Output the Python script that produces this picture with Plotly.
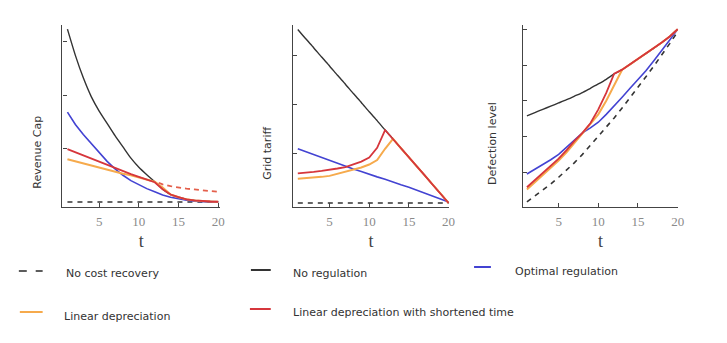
import plotly.graph_objects as go

t = [1, 2, 3, 4, 5, 6, 7, 8, 9, 10, 11, 12, 13, 14, 15, 16, 17, 18, 19, 20]

# ---------- Panel 1: Revenue Cap ----------
rev_no_cost = [0, 0, 0, 0, 0, 0, 0, 0, 0, 0, 0, 0, 0, 0, 0, 0, 0, 0, 0, 0]
rev_no_reg = [3.23, 2.74, 2.32, 1.97, 1.70, 1.47, 1.24, 1.03, 0.82, 0.65, 0.51, 0.38,
              0.24, 0.14, 0.09, 0.05, 0.03, 0.015, 0.01, 0.005]
rev_optimal = [1.68, 1.45, 1.26, 1.09, 0.92, 0.76, 0.62, 0.50, 0.40, 0.32, 0.25, 0.19,
               0.13, 0.09, 0.06, 0.035, 0.015, 0.005, 0.0, 0.0]
rev_linear = [0.80, 0.76, 0.72, 0.69, 0.65, 0.61, 0.57, 0.53, 0.50, 0.46, 0.42, 0.38,
              0.27, 0.14, 0.09, 0.05, 0.03, 0.015, 0.01, 0.005]
rev_short = [0.99, 0.93, 0.87, 0.81, 0.76, 0.70, 0.64, 0.58, 0.52, 0.47, 0.42, 0.37,
             0.24, 0.14, 0.09, 0.05, 0.03, 0.015, 0.01, 0.005]
t_ext = [12.5, 13, 14, 15, 16, 17, 18, 19, 20]
rev_linear_ext = [0.36, 0.33, 0.295, 0.27, 0.25, 0.235, 0.22, 0.205, 0.19]

# ---------- Panel 2: Grid tariff ----------
tar_no_cost = [0, 0, 0, 0, 0, 0, 0, 0, 0, 0, 0, 0, 0, 0, 0, 0, 0, 0, 0, 0]
tar_no_reg = [3.52, 3.33, 3.15, 2.96, 2.78, 2.59, 2.41, 2.22, 2.04, 1.85, 1.67, 1.48,
              1.30, 1.11, 0.93, 0.74, 0.56, 0.37, 0.19, 0.0]
tar_optimal = [1.10, 1.04, 0.98, 0.92, 0.86, 0.80, 0.75, 0.69, 0.64, 0.58, 0.53, 0.48,
               0.42, 0.37, 0.32, 0.26, 0.21, 0.15, 0.09, 0.02]
tar_linear = [0.49, 0.50, 0.51, 0.53, 0.55, 0.59, 0.63, 0.68, 0.72, 0.78, 0.87, 1.10,
              1.30, 1.11, 0.93, 0.74, 0.56, 0.37, 0.19, 0.0]
tar_short = [0.60, 0.61, 0.63, 0.65, 0.67, 0.70, 0.73, 0.78, 0.84, 0.92, 1.12, 1.48,
             1.30, 1.11, 0.93, 0.74, 0.56, 0.37, 0.19, 0.0]

# ---------- Panel 3: Defection level ----------
def_no_cost = [0.17, 0.33, 0.50, 0.67, 0.86, 1.06, 1.27, 1.50, 1.75, 2.00, 2.26, 2.52,
               2.80, 3.08, 3.37, 3.67, 3.97, 4.27, 4.60, 4.93]
def_no_reg = [2.58, 2.67, 2.76, 2.85, 2.94, 3.03, 3.13, 3.23, 3.35, 3.47, 3.60, 3.75,
              3.87, 4.02, 4.17, 4.32, 4.47, 4.63, 4.80, 5.0]
def_optimal = [0.95, 1.08, 1.22, 1.35, 1.50, 1.70, 1.90, 2.10, 2.24, 2.40, 2.62, 2.85,
               3.10, 3.35, 3.58, 3.84, 4.12, 4.40, 4.70, 5.0]
def_linear = [0.52, 0.72, 0.93, 1.13, 1.33, 1.56, 1.82, 2.08, 2.33, 2.62, 3.00, 3.44,
              3.87, 4.02, 4.17, 4.32, 4.47, 4.63, 4.80, 5.0]
def_short = [0.58, 0.78, 0.98, 1.18, 1.38, 1.62, 1.88, 2.10, 2.37, 2.76, 3.22, 3.76,
             3.87, 4.02, 4.17, 4.32, 4.47, 4.63, 4.80, 5.0]

x_ticks = [5, 10, 15, 20]
x_tick_labels = ["5", "10", "15", "20"]
y_titles = ["Revenue Cap", "Grid tariff", "Defection level"]
legend_labels = ["No cost recovery", "No regulation", "Optimal regulation",
                 "Linear depreciation", "Linear depreciation with shortened time"]

C_BLACK = "#333333"
C_BLUE = "#4343d2"
C_ORANGE = "#f6aa4c"
C_RED = "#d6363c"
C_RED_DASH = "#e4604c"

W, H = 727, 343

fig = go.Figure()

panels = [
    ("x", "y", rev_no_cost, rev_no_reg, rev_optimal, rev_linear, rev_short),
    ("x2", "y2", tar_no_cost, tar_no_reg, tar_optimal, tar_linear, tar_short),
    ("x3", "y3", def_no_cost, def_no_reg, def_optimal, def_linear, def_short),
]

for xa, ya, nc, nr, op, li, sh in panels:
    fig.add_trace(go.Scatter(x=t, y=nc, mode="lines", xaxis=xa, yaxis=ya,
                             line=dict(color=C_BLACK, width=1.6, dash="5px,5px")))
    fig.add_trace(go.Scatter(x=t, y=nr, mode="lines", xaxis=xa, yaxis=ya,
                             line=dict(color=C_BLACK, width=1.4, shape="spline", smoothing=0.6)))
    fig.add_trace(go.Scatter(x=t, y=op, mode="lines", xaxis=xa, yaxis=ya,
                             line=dict(color=C_BLUE, width=1.6)))
    fig.add_trace(go.Scatter(x=t, y=li, mode="lines", xaxis=xa, yaxis=ya,
                             line=dict(color=C_ORANGE, width=2)))
    if xa == "x":
        fig.add_trace(go.Scatter(x=t_ext, y=rev_linear_ext, mode="lines", xaxis=xa, yaxis=ya,
                                 line=dict(color=C_RED_DASH, width=1.8, dash="5px,4px")))
    fig.add_trace(go.Scatter(x=t, y=sh, mode="lines", xaxis=xa, yaxis=ya,
                             line=dict(color=C_RED, width=1.8)))

def px_x(p):
    return p / W

def px_y(p):
    return 1 - p / H

y_dom = [px_y(207), px_y(25)]

common_x = dict(showgrid=False, zeroline=False, showline=True, linecolor="#444444",
                linewidth=1.3, ticks="inside", ticklen=4, tickwidth=1.2, tickcolor="#444444",
                tickvals=x_ticks, ticktext=x_tick_labels, ticklabelstandoff=2,
                tickfont=dict(family="Liberation Serif", size=13, color="#8a8a8a"),
                title=dict(text="t", font=dict(family="Liberation Serif", size=18, color="#444444"),
                           standoff=6))
common_y = dict(showgrid=False, zeroline=False, showline=True, linecolor="#444444",
                linewidth=1.3, ticks="inside", ticklen=4, tickwidth=1.2, tickcolor="#444444",
                showticklabels=False)

fig.update_layout(
    width=W, height=H,
    margin=dict(l=0, r=0, t=0, b=0),
    paper_bgcolor="white", plot_bgcolor="white",
    showlegend=False,
    xaxis=dict(common_x, domain=[px_x(63), px_x(222)], range=[0.375, 20.25], anchor="y"),
    yaxis=dict(common_y, domain=y_dom, range=[-0.093, 3.308], tickvals=[1, 2, 3], anchor="x"),
    xaxis2=dict(common_x, domain=[px_x(295), px_x(453)], range=[0.34, 20.09], anchor="y2"),
    yaxis2=dict(common_y, domain=y_dom, range=[-0.081, 3.61], tickvals=[1, 2, 3], anchor="x2"),
    xaxis3=dict(common_x, domain=[px_x(527), px_x(684)], range=[0.46, 20.09], anchor="y3"),
    yaxis3=dict(common_y, domain=y_dom, range=[0.028, 5.12], tickvals=[1, 2, 3, 4, 5], anchor="x3"),
)

# y-axis titles
for txt, xp, yp in zip(y_titles, [37, 270, 496], [152, 153, 143]):
    fig.add_annotation(text=txt, xref="paper", yref="paper", x=px_x(xp), y=px_y(yp),
                       textangle=-90, showarrow=False, xanchor="center", yanchor="middle",
                       font=dict(family="DejaVu Sans", size=11, color="#333333"))

# legend (key) drawn below the panels
legend_items = [
    (legend_labels[0], C_BLACK, "dash", 19, 43, 271, 65, 273),
    (legend_labels[1], C_BLACK, "solid", 253, 273, 270, 293, 273),
    (legend_labels[2], C_BLUE, "solid", 478, 495, 267, 517, 271),
    (legend_labels[3], C_ORANGE, "solid", 20, 43, 312, 63, 316),
    (legend_labels[4], C_RED, "solid", 252, 273, 309, 293, 312),
]
for label, col, style, x0, x1, ly, tx, ty in legend_items:
    if style == "dash":
        for a, b in [(x0, x0 + 8), (x1 - 7, x1)]:
            fig.add_shape(type="line", xref="paper", yref="paper",
                          x0=px_x(a), x1=px_x(b), y0=px_y(ly), y1=px_y(ly),
                          line=dict(color=col, width=1.6))
    else:
        fig.add_shape(type="line", xref="paper", yref="paper",
                      x0=px_x(x0), x1=px_x(x1), y0=px_y(ly), y1=px_y(ly),
                      line=dict(color=col, width=2))
    fig.add_annotation(text=label, xref="paper", yref="paper", x=px_x(tx), y=px_y(ty),
                       showarrow=False, xanchor="left", yanchor="middle",
                       font=dict(family="DejaVu Sans", size=11, color="#333333"))

fig.write_html("out.html")
